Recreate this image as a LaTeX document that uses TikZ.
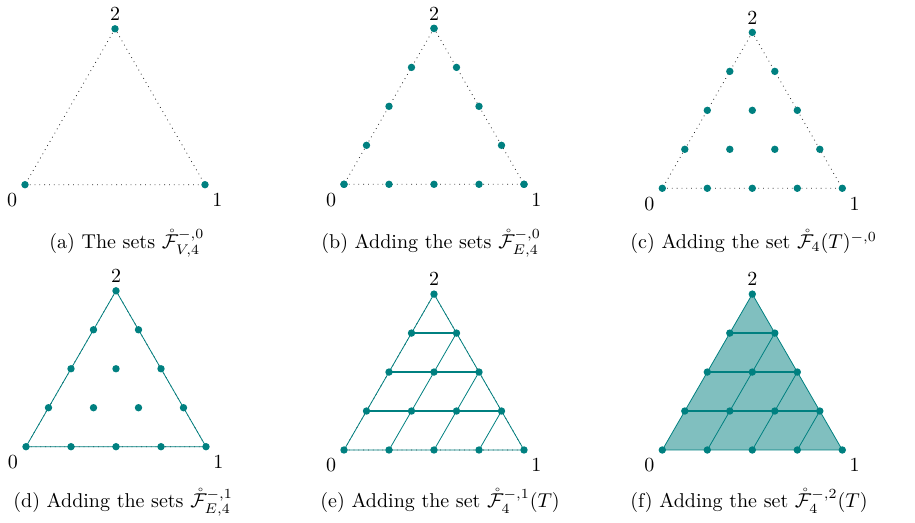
\documentclass[tikz,border=0pt]{standalone}
\usepackage{amsmath,amssymb}
\newcommand{\rF}{\mathring{\mathcal{F}}}
\begin{document}
\begin{tikzpicture}[x=0.5pt,y=0.5pt,
  latpt/.style={fill=teal},
  rim/.style={dotted,black!85},
  edge/.style={teal,thin},
  rung/.style={teal,thick}]
\useasboundingbox (0,0) rectangle (915,523);
% (a) vertices only
\begin{scope}[shift={(25,338.3)}]
 \draw[rim] (0,0)--(180,0)--(90,155.9)--cycle;
 \foreach \p in {(0,0),(180,0),(90,155.9)} \fill[latpt] \p circle (3.7);
 \node (a0) at (-13,-15.3) {$0$};
 \node (a1) at (192.3,-15.3) {$1$};
 \node (a2) at (90,170.6) {$2$};
\end{scope}
% (b) boundary
\begin{scope}[shift={(344,338.7)}]
 \draw[rim] (0,0)--(180,0)--(90,155.9)--cycle;
 \foreach \t in {0,...,4} {
   \fill[latpt] ({45*\t},0) circle (3.7);
   \fill[latpt] ({22.5*\t},{38.97*\t}) circle (3.7);
   \fill[latpt] ({180-22.5*\t},{38.97*\t}) circle (3.7);
 }
 \node (b0) at (-13,-15.3) {$0$};
 \node (b1) at (192.3,-15.3) {$1$};
 \node (b2) at (90,170.6) {$2$};
\end{scope}
% (c) all points
\begin{scope}[shift={(662.3,334.7)}]
 \draw[rim] (0,0)--(180,0)--(90,155.9)--cycle;
 \foreach \j in {0,...,4} {\pgfmathtruncatemacro\k{4-\j}
   \foreach \i in {0,...,\k} \fill[latpt] ({45*\i+22.5*\j},{38.97*\j}) circle (3.7);}
 \node (c0) at (-13,-15.3) {$0$};
 \node (c1) at (192.3,-15.3) {$1$};
 \node (c2) at (90,170.6) {$2$};
\end{scope}
% (d) edges
\begin{scope}[shift={(26,76.3)}]
 \draw[rim] (0,0)--(180,0)--(90,155.9)--cycle;
 \draw[edge] (0,0)--(180,0)--(90,155.9)--cycle;
 \foreach \j in {0,...,4} {\pgfmathtruncatemacro\k{4-\j}
   \foreach \i in {0,...,\k} \fill[latpt] ({45*\i+22.5*\j},{38.97*\j}) circle (3.7);}
 \node (d0) at (-13,-15.3) {$0$};
 \node (d1) at (192.3,-15.3) {$1$};
 \node (d2) at (90,170.6) {$2$};
\end{scope}
% (e) interior edges
\begin{scope}[shift={(344,73)}]
 \draw[rim] (0,0)--(180,0)--(90,155.9)--cycle;
 \draw[edge] (0,0)--(180,0)--(90,155.9)--cycle;
 \foreach \j in {1,2,3}
   \draw[rung] ({22.5*\j},{38.97*\j})--({180-22.5*\j},{38.97*\j});
 \foreach \i in {1,2,3}
   \draw[edge] ({45*\i},0)--({45*\i+22.5*(4-\i)},{38.97*(4-\i)});
 \foreach \j in {0,...,4} {\pgfmathtruncatemacro\k{4-\j}
   \foreach \i in {0,...,\k} \fill[latpt] ({45*\i+22.5*\j},{38.97*\j}) circle (3.7);}
 \node (e0) at (-13,-15.3) {$0$};
 \node (e1) at (192.3,-15.3) {$1$};
 \node (e2) at (90,170.6) {$2$};
\end{scope}
% (f) faces
\begin{scope}[shift={(662.3,73)}]
 \fill[teal!50] (0,0)--(180,0)--(90,155.9)--cycle;
 \draw[edge] (0,0)--(180,0)--(90,155.9)--cycle;
 \foreach \j in {1,2,3}
   \draw[rung] ({22.5*\j},{38.97*\j})--({180-22.5*\j},{38.97*\j});
 \foreach \i in {1,2,3}
   \draw[edge] ({45*\i},0)--({45*\i+22.5*(4-\i)},{38.97*(4-\i)});
 \foreach \j in {0,...,4} {\pgfmathtruncatemacro\k{4-\j}
   \foreach \i in {0,...,\k} \fill[latpt] ({45*\i+22.5*\j},{38.97*\j}) circle (3.7);}
 \node (f0) at (-13,-15.3) {$0$};
 \node (f1) at (192.3,-15.3) {$1$};
 \node (f2) at (90,170.6) {$2$};
\end{scope}
% captions
\node[anchor=base west,inner sep=0pt] (capa) at (49,274.5) {(a) The sets $\rF^{-,0}_{V,4}$};
\node[anchor=base west,inner sep=0pt] (capb) at (321,274.5) {(b) Adding the sets $\rF^{-,0}_{E,4}$};
\node[anchor=base west,inner sep=0pt] (capc) at (630,274.5) {(c) Adding the set $\rF_4(T)^{-,0}$};
\node[anchor=base west,inner sep=0pt] (capd) at (13,15) {(d) Adding the sets $\rF^{-,1}_{E,4}$};
\node[anchor=base west,inner sep=0pt] (cape) at (320,15) {(e) Adding the set $\rF^{-,1}_4(T)$};
\node[anchor=base west,inner sep=0pt] (capf) at (630,15) {(f) Adding the set $\rF^{-,2}_4(T)$};
\end{tikzpicture}
\end{document}
